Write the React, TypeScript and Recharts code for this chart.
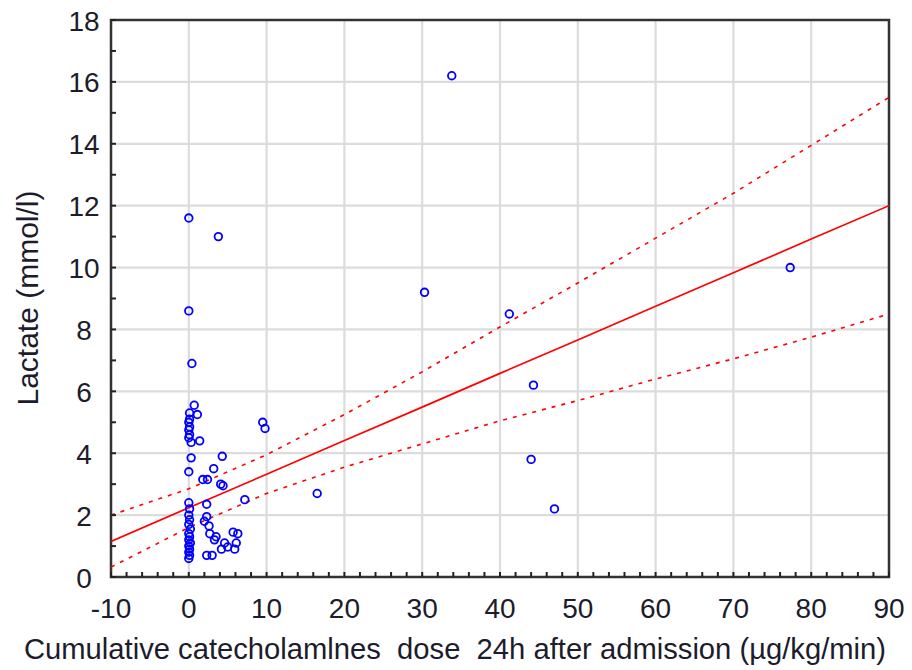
import {
  ScatterChart,
  Scatter,
  XAxis,
  YAxis,
  CartesianGrid,
  ReferenceArea,
  Label,
} from "recharts";

// cumulative catecholamine dose (µg/kg/min) vs lactate (mmol/l)
const dose = [
  0, 0, 0.4, 0.7, 0.1, 0.1, 0, 0.1, 0, 0.1, 0, 0.3, 0.3, 0, 0, 0.1, 0, 0.1, 0, 0.2,
  0, 0.1, 0, 0.2, 0, 0.1, 0, 0.1, 0, 1.1, 1.4,
  3.8, 4.3, 3.2, 1.8, 2.4, 4.1, 4.4, 2.3, 7.2, 2.3, 2.0, 2.6, 2.7, 3.3, 4.6, 5.0,
  5.7, 6.3, 5.9, 4.2, 2.3, 3.0, 3.5, 6.1,
  9.5, 9.8, 16.5, 30.3, 33.8, 41.2, 44.3, 44.0, 47.0, 77.3,
];
const lactate = [
  11.6, 8.6, 6.9, 5.55, 5.3, 5.1, 5.0, 4.85, 4.75, 4.6, 4.5, 4.35, 3.85, 3.4, 2.4, 2.2,
  2.0, 1.85, 1.7, 1.55, 1.4, 1.3, 1.2, 1.1, 1.0, 0.9, 0.8, 0.7, 0.6, 5.25, 4.4,
  11.0, 3.9, 3.5, 3.15, 3.15, 3.0, 2.95, 2.35, 2.5, 1.95, 1.8, 1.65, 1.4, 1.2, 1.1, 0.97,
  1.45, 1.4, 0.9, 0.9, 0.7, 0.7, 1.3, 1.1,
  5.0, 4.8, 2.7, 9.2, 16.2, 8.5, 6.2, 3.8, 2.2, 10.0,
];

// regression line and 95% confidence band
const fitX = [-10, 0, 10, 20, 30, 40, 50, 60, 70, 80, 90];
const fitY = [1.15, 2.24, 3.32, 4.41, 5.49, 6.58, 7.66, 8.75, 9.83, 10.92, 12.0];
const upperY = [2.0, 2.85, 3.95, 5.25, 6.63, 8.08, 9.5, 10.95, 12.4, 13.95, 15.5];
const lowerY = [0.32, 1.6, 2.7, 3.55, 4.3, 5.05, 5.7, 6.4, 7.05, 7.75, 8.5];

const xTicks = [-10, -8, -6, -4, -2, 0, 2, 4, 6, 8, 10, 12, 14, 16, 18, 20, 22, 24, 26, 28, 30, 32, 34, 36, 38, 40, 42, 44, 46, 48, 50, 52, 54, 56, 58, 60, 62, 64, 66, 68, 70, 72, 74, 76, 78, 80, 82, 84, 86, 88, 90];
const yTicks = [0, 1, 2, 3, 4, 5, 6, 7, 8, 9, 10, 11, 12, 13, 14, 15, 16, 17, 18];
const xGrid = [-10, 0, 10, 20, 30, 40, 50, 60, 70, 80, 90];
const yGrid = [0, 2, 4, 6, 8, 10, 12, 14, 16, 18];

const points = dose.map((x, i) => ({ x, y: lactate[i] }));
const fit = fitX.map((x, i) => ({ x, y: fitY[i] }));
const upper = fitX.map((x, i) => ({ x, y: upperY[i] }));
const lower = fitX.map((x, i) => ({ x, y: lowerY[i] }));

const font = "'Liberation Sans', Arial, sans-serif";
const textColor = "#1c1c2c";

const XTick = (props: any) => {
  const { x, y, payload } = props;
  const v = payload.value;
  const major = v % 10 === 0;
  return (
    <g>
      <line x1={x} x2={x} y1={y} y2={y - 5} stroke="#222" strokeWidth={2} />
      {major && (
        <text x={x} y={y + 31} textAnchor="middle" dominantBaseline="central" fontSize={28} fontFamily={font} fill={textColor}>
          {v}
        </text>
      )}
    </g>
  );
};

const YTick = (props: any) => {
  const { x, y, payload } = props;
  const v = payload.value;
  const major = v % 2 === 0;
  return (
    <g>
      <line x1={x} x2={x + 5} y1={y} y2={y} stroke="#222" strokeWidth={2} />
      {major && (
        <text x={x - 27} y={y + 1} textAnchor="middle" dominantBaseline="central" fontSize={28} fontFamily={font} fill={textColor}>
          {v}
        </text>
      )}
    </g>
  );
};

const noDot = () => <g />;

const ring = (p: any) => (
  <circle cx={p.cx} cy={p.cy} r={3.8} fill="none" stroke="#0000ff" strokeWidth={1.8} />
);

export default function App() {
  return (
    <div style={{ position: "absolute", left: 0, top: 0, width: 912, height: 670, background: "#fff" }}>
      <ScatterChart width={912} height={670} margin={{ top: 20, right: 23, left: 0, bottom: 0 }}>
        <CartesianGrid
          stroke="#dcdcdc"
          strokeWidth={2.2}
          horizontalValues={yGrid}
          verticalValues={xGrid}
        />
        <XAxis
          type="number"
          dataKey="x"
          domain={[-10, 90]}
          ticks={xTicks}
          interval={0}
          allowDataOverflow
          height={93}
          tickSize={0}
          tickMargin={0}
          tickLine={false}
          axisLine={false}
          tick={XTick}
        >
          <Label
            content={() => (
              <text x={455} y={649} textAnchor="middle" dominantBaseline="central" fontSize={29.2} fontFamily={font} fill={textColor} style={{ whiteSpace: "pre" }}>
                {"Cumulative catecholamlnes  dose  24h after admission (µg/kg/min)"}
              </text>
            )}
          />
        </XAxis>
        <YAxis
          type="number"
          dataKey="y"
          domain={[0, 18]}
          ticks={yTicks}
          interval={0}
          allowDataOverflow
          width={111}
          tickSize={0}
          tickMargin={0}
          tickLine={false}
          axisLine={false}
          tick={YTick}
        >
          <Label
            content={() => (
              <text
                x={27}
                y={298}
                transform="rotate(-90 27 298)"
                textAnchor="middle"
                dominantBaseline="central"
                fontSize={30}
                fontFamily={font}
                fill={textColor}
              >
                Lactate (mmol/l)
              </text>
            )}
          />
        </YAxis>
        <Scatter
          data={upper}
          line={{ stroke: "#ff0000", strokeWidth: 1.6, strokeDasharray: "4 6" }}
          shape={noDot}
          isAnimationActive={false}
        />
        <Scatter
          data={lower}
          line={{ stroke: "#ff0000", strokeWidth: 1.6, strokeDasharray: "4 6" }}
          shape={noDot}
          isAnimationActive={false}
        />
        <Scatter
          data={fit}
          line={{ stroke: "#ff0000", strokeWidth: 1.7 }}
          shape={noDot}
          isAnimationActive={false}
        />
        <Scatter data={points} shape={ring} isAnimationActive={false} />
        <ReferenceArea x1={-10} x2={90} y1={0} y2={18} fill="none" stroke="#333" strokeWidth={2.5} />
      </ScatterChart>
    </div>
  );
}
